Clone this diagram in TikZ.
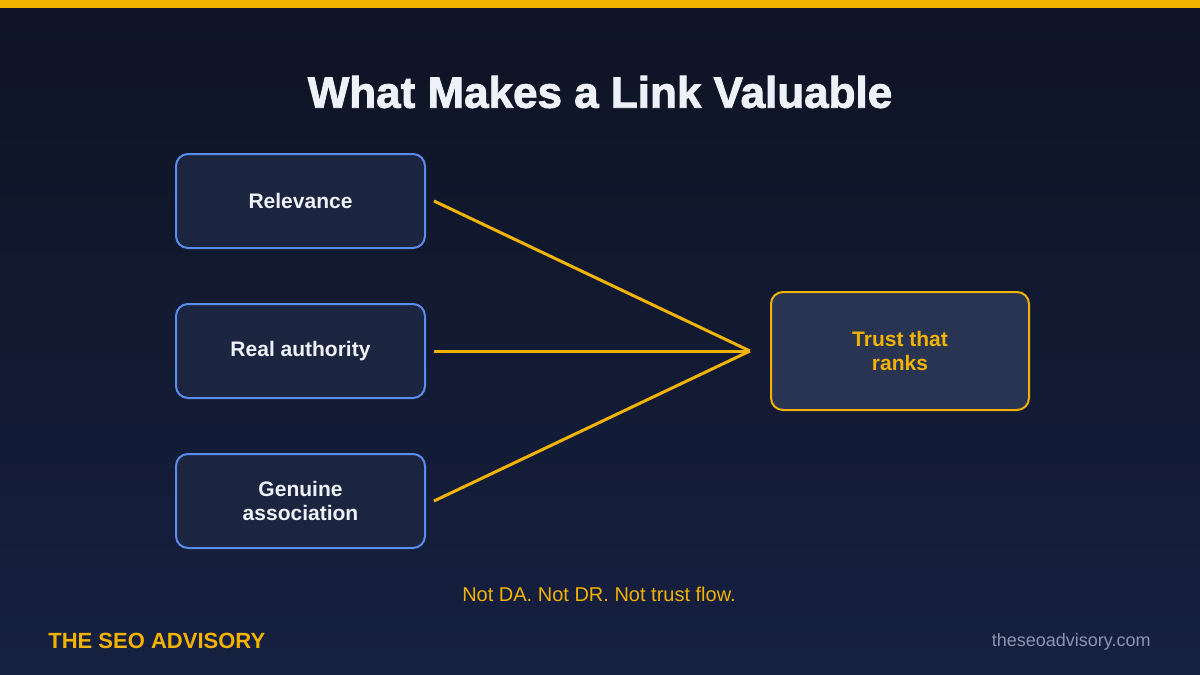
\documentclass[tikz,border=0pt]{standalone}
\usepackage{fontspec}
\setmainfont{Liberation Sans}
\newfontfamily\titlefont{Liberation Sans}[BoldFeatures={FakeBold=2}]
\definecolor{seogold}{HTML}{F2B200}
\definecolor{seoblue}{HTML}{5A8CEB}
\definecolor{boxfill}{HTML}{1B2540}
\definecolor{hubfill}{HTML}{283452}
\definecolor{bgtop}{HTML}{0E1424}
\definecolor{bgbottom}{HTML}{162040}
\definecolor{softwhite}{HTML}{EEF2F8}
\definecolor{urlgrey}{HTML}{8B95AE}

\begin{document}
\begin{tikzpicture}[x=0.5pt,y=-0.5pt,
  factor/.style={draw=seoblue,line width=1pt,fill=boxfill,rounded corners=6pt,
    minimum width=124.5pt,minimum height=47pt,align=center,
    font=\fontsize{10.5}{12}\selectfont\bfseries,text=softwhite},
  result/.style={draw=seogold,line width=1pt,fill=hubfill,rounded corners=6pt,
    minimum width=129pt,minimum height=59pt,align=center,
    font=\fontsize{10.5}{12}\selectfont\bfseries,text=seogold},
  link/.style={draw=seogold,line width=1.5pt}]
% background and top bar
\shade[top color=bgtop,bottom color=bgbottom] (0,0) rectangle (1200,675);
\fill[seogold] (0,0) rectangle (1200,8);
\useasboundingbox (0,0) rectangle (1200,675);
% title
\node[font=\titlefont\fontsize{22}{24}\selectfont\bfseries,text=softwhite] (title) at (600,92) {What Makes a Link Valuable};
% factors
\node[factor] (rel) at (300.5,201) {Relevance};
\node[factor] (auth) at (300.5,351) {Real authority};
\node[factor] (gen) at (300.5,501) {Genuine\\association};
% result
\node[result] (trust) at (900,351) {Trust that\\ranks};
\coordinate (hub) at (750,351);
\coordinate (relout) at ([xshift=4pt]rel.east);
\coordinate (authout) at ([xshift=4pt]auth.east);
\coordinate (genout) at ([xshift=4pt]gen.east);
% connectors
\draw[link] (relout) -- (hub);
\draw[link] (authout) -- (hub);
\draw[link] (genout) -- (hub);
% footer
\node[font=\fontsize{10}{12}\selectfont,text=seogold] (note) at (599,594) {Not DA. Not DR. Not trust flow.};
\node[font=\fontsize{11}{13}\selectfont\bfseries,text=seogold,anchor=west,inner sep=0pt] (brand) at (48,641) {THE SEO ADVISORY};
\node[font=\fontsize{9}{11}\selectfont,text=urlgrey,anchor=east,inner sep=0pt] (url) at (1151,642) {theseoadvisory.com};
\end{tikzpicture}
\end{document}
